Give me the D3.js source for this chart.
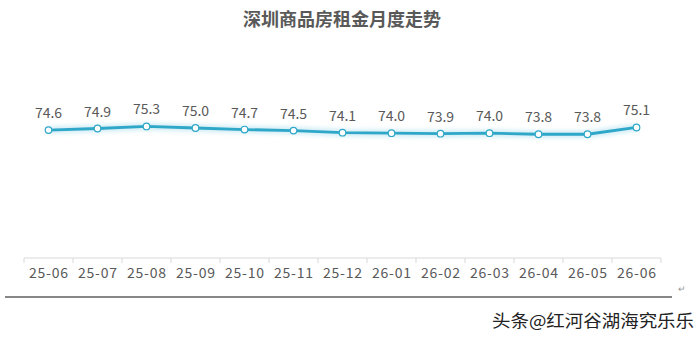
<!DOCTYPE html>
<html><head><meta charset="utf-8">
<script src="https://cdn.jsdelivr.net/npm/d3@7"></script>
<style>html,body{margin:0;padding:0;background:#fff;}svg{display:block;}</style>
</head><body>
<script>
const title = "深圳商品房租金月度走势";
const categories = ["25-06","25-07","25-08","25-09","25-10","25-11","25-12","26-01","26-02","26-03","26-04","26-05","26-06"];
const values = [74.6,74.9,75.3,75.0,74.7,74.5,74.1,74.0,73.9,74.0,73.8,73.8,75.1];
const watermark = "头条@红河谷湖海究乐乐";

const W = 700, H = 341;
const svg = d3.select("body").append("svg").attr("width", W).attr("height", H);
const font = "'Noto Sans CJK SC','Noto Sans',sans-serif";

const x = d3.scaleBand().domain(categories).range([24, 661]).padding(0);
const y = d3.scaleLinear().domain([50, 80]).range([258, 102]);

const defs = svg.append("defs");
const f = defs.append("filter").attr("id","glow").attr("x","-10%").attr("y","-200%").attr("width","120%").attr("height","500%");
f.append("feGaussianBlur").attr("stdDeviation", 2.5);

svg.append("text").attr("x", 342).attr("y", 26).attr("text-anchor","middle")
  .attr("font-family", font).attr("font-size", 18).attr("font-weight", "bold")
  .attr("fill", "#595959").text(title);

// axis
const axis = d3.axisBottom(x).tickSize(5).tickSizeOuter(5).tickFormat(d=>d);
const gx = svg.append("g").attr("transform","translate(0,258)").call(axis);
gx.select(".domain").attr("stroke","#d9d9d9").attr("stroke-width",1);
gx.selectAll(".tick line").remove();
const bounds = categories.map(c => x(c)).concat([x(categories[categories.length-1]) + x.bandwidth()]);
gx.selectAll(".bt").data(bounds).enter().append("line")
  .attr("x1", d=>d).attr("x2", d=>d).attr("y1",0).attr("y2",5)
  .attr("stroke","#d9d9d9");
gx.select(".domain").attr("d", `M${bounds[0]},0H${bounds[bounds.length-1]}`);
gx.selectAll(".tick text").attr("font-family", font).attr("font-size", 14)
  .attr("fill","#595959").attr("dy","0.95em").attr("y", 7)
  .attr("textLength", 39).attr("lengthAdjust","spacing");

const cx = d => x(d) + x.bandwidth()/2;
const line = d3.line().x((d,i)=>cx(categories[i])).y(d=>y(d));

svg.append("path").datum(values).attr("d", line).attr("fill","none")
  .attr("stroke","#8fd3e8").attr("stroke-width",6).attr("opacity",0.5).attr("filter","url(#glow)");
svg.append("path").datum(values).attr("d", line).attr("fill","none")
  .attr("stroke","#2ea7c8").attr("stroke-width",2.8).attr("stroke-linejoin","round");

svg.selectAll(".pt").data(values).enter().append("circle")
  .attr("cx",(d,i)=>cx(categories[i])).attr("cy",d=>y(d)).attr("r",3.3)
  .attr("fill","#fff").attr("stroke","#2ea7c8").attr("stroke-width",1.2);

svg.selectAll(".lbl").data(values).enter().append("text")
  .attr("x",(d,i)=>cx(categories[i])).attr("y",d=>y(d)-12)
  .attr("text-anchor","middle").attr("font-family",font).attr("font-size",14)
  .attr("fill","#595959").text(d=>d.toFixed(1));

svg.append("line").attr("x1",5).attr("x2",672).attr("y1",297).attr("y2",297)
  .attr("stroke","#111").attr("stroke-width",1.2);
svg.append("text").attr("x",678).attr("y",292).attr("font-family",font).attr("font-size",9)
  .attr("fill","#999").text("↵");

svg.append("text").attr("x",492).attr("y",327).attr("font-family",font).attr("font-size",17)
  .attr("textLength",202).attr("lengthAdjust","spacingAndGlyphs")
  .attr("fill","#222").attr("stroke","#fff").attr("stroke-width",0.6).attr("paint-order","stroke")
  .text(watermark);
</script>
</body></html>
